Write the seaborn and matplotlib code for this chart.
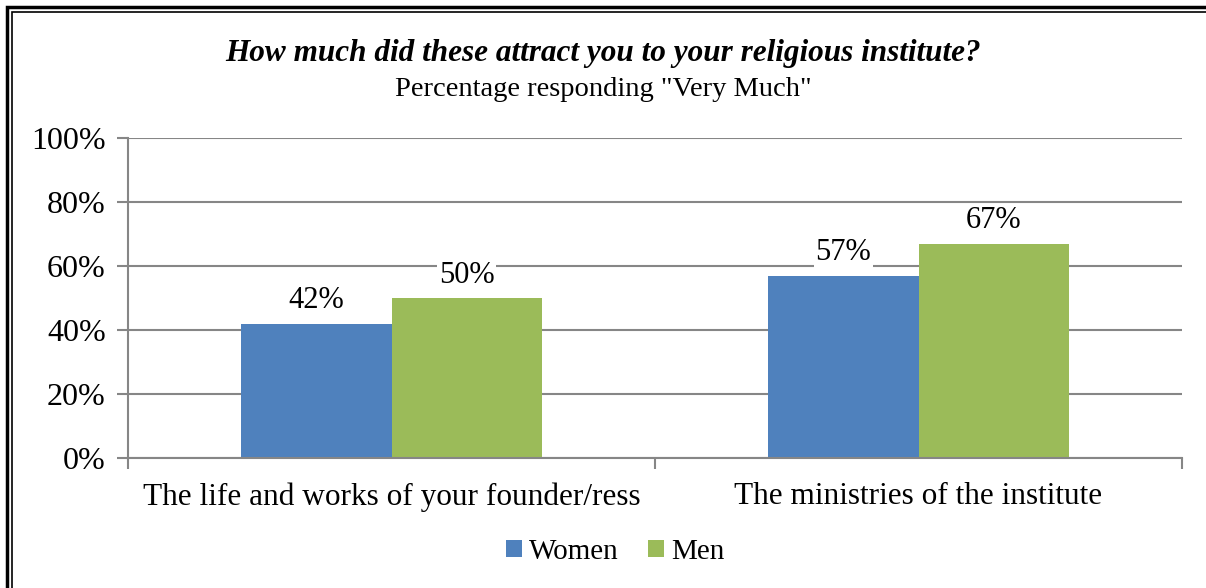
import matplotlib
matplotlib.use("Agg")
import matplotlib.pyplot as plt
import seaborn as sns
import pandas as pd
from matplotlib.patches import Rectangle

# Chart data
categories = ["The life and works of your founder/ress", "The ministries of the institute"]
groups = ["Women", "Men"]
women = [42, 57]
men = [50, 67]
yticks = [0, 20, 40, 60, 80, 100]

df = pd.DataFrame({
    "category": categories * 2,
    "group": ["Women"] * len(categories) + ["Men"] * len(categories),
    "value": women + men,
})

sns.set_style("white")
plt.rcParams['font.family'] = ['Liberation Serif', 'DejaVu Serif']
plt.rcParams['text.color'] = 'black'
plt.rcParams['xtick.color'] = 'black'
plt.rcParams['ytick.color'] = 'black'

palette = {"Women": "#4F81BD", "Men": "#9BBB59"}
grid_col = "#868686"

fig = plt.figure(figsize=(12.06, 5.88), dpi=100)
ax = fig.add_axes([128 / 1206, 1 - 458 / 588, 1054 / 1206, 320 / 588])

sns.barplot(data=df, x="category", y="value", hue="group", hue_order=groups,
            palette=palette, width=0.57, saturation=1, linewidth=0, ax=ax, legend=True)

ax.set_ylim(0, 100)
ax.set_xlim(-0.5, len(categories) - 0.5)
ax.set_yticks(yticks)
ax.set_yticklabels([f"{t}%" for t in yticks], fontsize=23)
ax.tick_params(axis='x', labelsize=22.5, pad=14)
ax.set_xlabel("")
ax.set_ylabel("")
ax.yaxis.grid(True, color=grid_col, linewidth=1.5)
ax.set_axisbelow(True)
for s in ["top", "right"]:
    ax.spines[s].set_visible(False)
for s in ["left", "bottom"]:
    ax.spines[s].set_color(grid_col)
    ax.spines[s].set_linewidth(1.5)

# tick marks
ax.tick_params(axis='y', left=True, length=8, width=1.5, color=grid_col, direction='out', pad=8)
ax.set_xticks([-0.5, 0.5, 1.5], minor=True)
ax.tick_params(axis='x', which='minor', bottom=True, length=8, width=1.5, color=grid_col, direction='out')
ax.tick_params(axis='x', which='major', bottom=False)

# value labels
for cont in ax.containers:
    ax.bar_label(cont, labels=[f"{v:.0f}%" for v in cont.datavalues], fontsize=22, padding=6,
                 bbox=dict(facecolor='white', edgecolor='none', pad=1))

# legend
handles, labels = ax.get_legend_handles_labels()
ax.get_legend().remove()
fig.legend(handles, labels, loc='center', bbox_to_anchor=(615 / 1206, 1 - 552 / 588), ncol=2,
           frameon=False, fontsize=21, handlelength=0.55, handleheight=0.55,
           handletextpad=0.25, columnspacing=1.0)

# titles
fig.text(0.5, 1 - 54 / 588, "How much did these attract you to your religious institute?",
         ha='center', va='center', fontsize=22.5, fontweight='bold', style='italic')
fig.text(0.5, 1 - 89 / 588, 'Percentage responding "Very Much"',
         ha='center', va='center', fontsize=20.5)

# double border
fig.patches.append(Rectangle((7 / 1206, -0.1), 1.2, 1 - 7 / 588 + 0.1, transform=fig.transFigure,
                             fill=False, edgecolor='black', linewidth=2.5))
fig.patches.append(Rectangle((11.5 / 1206, -0.1), 1.2, 1 - 12 / 588 + 0.1, transform=fig.transFigure,
                             fill=False, edgecolor='black', linewidth=1.2))

fig.savefig("out.png", dpi=100)
